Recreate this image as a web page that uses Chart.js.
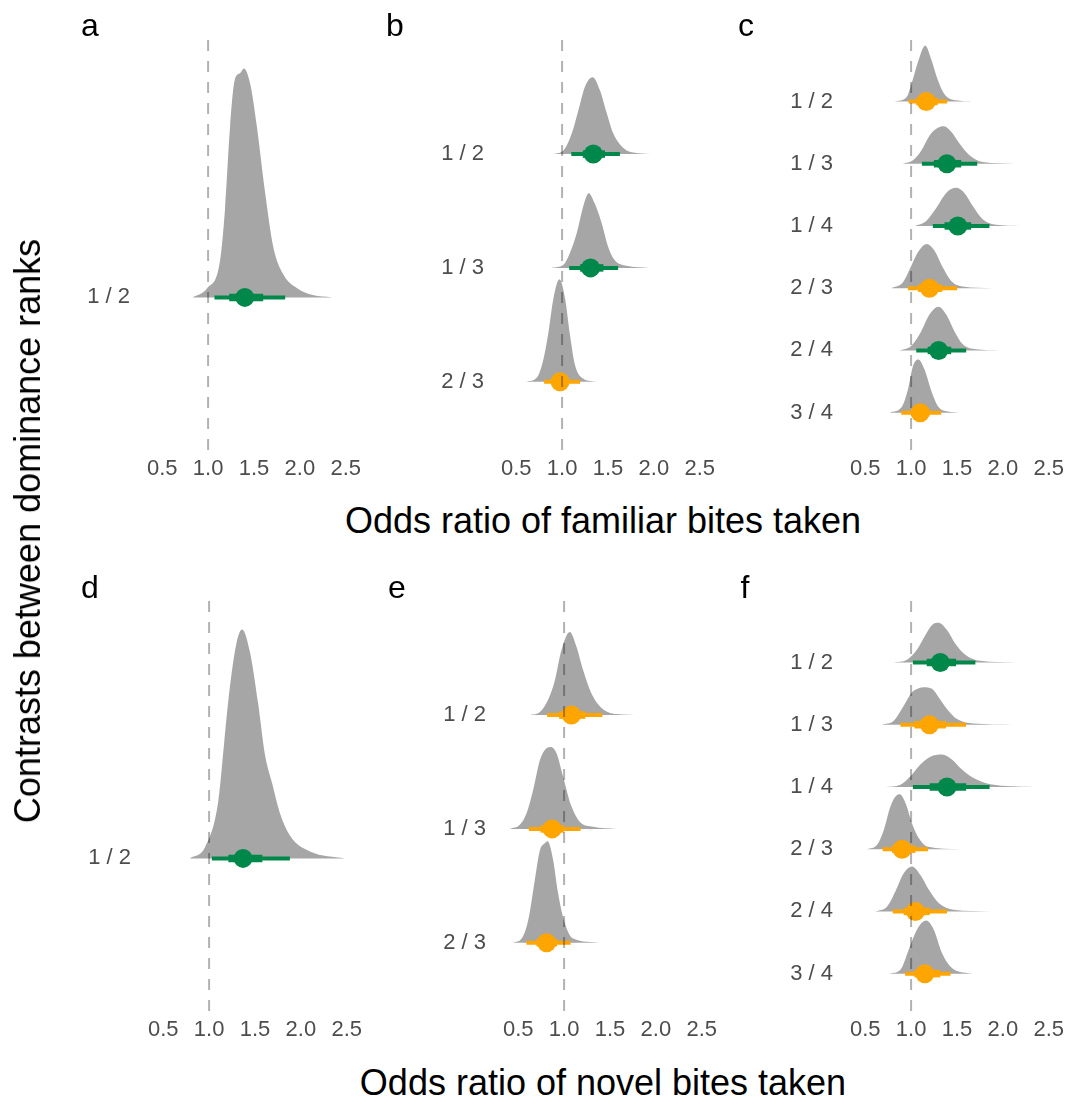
<!DOCTYPE html>
<html>
<head>
<meta charset="utf-8">
<script src="https://cdn.jsdelivr.net/npm/chart.js@4.4.0/dist/chart.umd.min.js"></script>
<style>
  body { margin: 0; background: #fff; }
  #fig { position: relative; width: 1069px; height: 1106px; overflow: hidden; font-family: "Liberation Sans", Arial, sans-serif; }
  #fig canvas { position: absolute; }
  .txt { position: absolute; color: #000; white-space: nowrap; line-height: 1; transform: translate(-50%, -50%); }
</style>
</head>
<body>
<div id="fig"></div>
<script>
// ---- data (odds ratios) ----
const xTicks = [0.5, 1.0, 1.5, 2.0, 2.5];
const xRange = [0.4, 2.6];
const refOR = 1;

// a: familiar bites, 2 ranks
const contrastsA = ['1 / 2'];
const medianA = [1.40];
const innerA = [[1.23, 1.60]];
const outerA = [[1.07, 1.84]];
const slabXA = [[0.83, 0.99, 1.13, 1.185, 1.24, 1.29, 1.35, 1.39, 1.46, 1.53, 1.62, 1.71, 1.82, 1.97, 2.14, 2.35]];
const slabDA = [[0, 0.04, 0.16, 0.39, 0.75, 0.95, 0.98, 1.0, 0.93, 0.75, 0.46, 0.22, 0.10, 0.04, 0.01, 0]];

// b: familiar bites, 3 ranks
const contrastsB = ['1 / 2', '1 / 3', '2 / 3'];
const medianB = [1.34, 1.31, 0.978];
const innerB = [[1.225, 1.467], [1.196, 1.45], [0.888, 1.068]];
const outerB = [[1.10, 1.63], [1.077, 1.61], [0.804, 1.196]];
const slabXB = [
  [0.888, 1.014, 1.105, 1.178, 1.25, 1.333, 1.413, 1.486, 1.558, 1.667, 1.812, 2.01],
  [0.888, 1.014, 1.087, 1.16, 1.23, 1.29, 1.355, 1.43, 1.5, 1.57, 1.70, 1.95],
  [0.616, 0.725, 0.797, 0.851, 0.905, 0.971, 1.033, 1.087, 1.141, 1.232, 1.377]
];
const slabDB = [
  [0, 0.036, 0.2, 0.43, 0.66, 0.75, 0.62, 0.40, 0.2, 0.06, 0.01, 0],
  [0, 0.03, 0.15, 0.34, 0.60, 0.73, 0.63, 0.44, 0.21, 0.08, 0.02, 0],
  [0, 0.04, 0.22, 0.48, 0.81, 1.0, 0.81, 0.45, 0.16, 0.03, 0]
];

// c: familiar bites, 4 ranks
const contrastsC = ['1 / 2', '1 / 3', '1 / 4', '2 / 3', '2 / 4', '3 / 4'];
const medianC = [1.165, 1.39, 1.509, 1.2, 1.30, 1.10];
const innerC = [[1.056, 1.29], [1.248, 1.546], [1.364, 1.654], [1.074, 1.34], [1.18, 1.437], [1.0, 1.2]];
const outerC = [[0.973, 1.393], [1.118, 1.72], [1.237, 1.853], [0.965, 1.502], [1.056, 1.6], [0.893, 1.328]];
const slabXC = [
  [0.82, 0.948, 1.02, 1.074, 1.154, 1.22, 1.29, 1.364, 1.49, 1.67],
  [0.91, 1.02, 1.11, 1.2, 1.29, 1.357, 1.437, 1.527, 1.636, 1.78, 2.14],
  [1.04, 1.165, 1.274, 1.383, 1.49, 1.58, 1.67, 1.78, 1.926, 2.18],
  [0.785, 0.91, 1.0, 1.074, 1.17, 1.255, 1.346, 1.437, 1.563, 1.89],
  [0.875, 1.0, 1.11, 1.2, 1.30, 1.383, 1.473, 1.563, 1.709, 1.96],
  [0.766, 0.893, 0.965, 1.02, 1.078, 1.147, 1.22, 1.29, 1.40, 1.527]
];
const slabDC = [
  [0, 0.07, 0.40, 0.70, 1.0, 0.75, 0.39, 0.13, 0.02, 0],
  [0, 0.06, 0.23, 0.5, 0.64, 0.67, 0.57, 0.36, 0.15, 0.03, 0],
  [0, 0.09, 0.32, 0.59, 0.68, 0.59, 0.36, 0.12, 0.02, 0],
  [0, 0.10, 0.39, 0.64, 0.79, 0.67, 0.37, 0.13, 0.03, 0],
  [0, 0.08, 0.34, 0.64, 0.78, 0.64, 0.34, 0.11, 0.02, 0],
  [0, 0.09, 0.41, 0.83, 0.95, 0.77, 0.39, 0.12, 0.02, 0]
];

// d: novel bites, 2 ranks
const contrastsD = ['1 / 2'];
const medianD = [1.37];
const innerD = [[1.21, 1.58]];
const outerD = [[1.03, 1.88]];
const slabXD = [[0.79, 0.957, 1.10, 1.163, 1.207, 1.293, 1.359, 1.446, 1.533, 1.61, 1.685, 1.77, 1.88, 2.1, 2.48]];
const slabDD = [[0, 0.05, 0.25, 0.5, 0.68, 0.93, 1.0, 0.9, 0.68, 0.45, 0.33, 0.2, 0.1, 0.03, 0]];

// e: novel bites, 3 ranks
const contrastsE = ['1 / 2', '1 / 3', '2 / 3'];
const medianE = [1.08, 0.87, 0.81];
const innerE = [[0.946, 1.232], [0.743, 0.997], [0.699, 0.923]];
const outerE = [[0.815, 1.417], [0.616, 1.18], [0.59, 1.072]];
const slabXE = [
  [0.627, 0.736, 0.826, 0.9, 0.97, 1.062, 1.134, 1.207, 1.298, 1.407, 1.57, 1.84],
  [0.41, 0.518, 0.59, 0.663, 0.736, 0.79, 0.852, 0.917, 0.989, 1.08, 1.17, 1.315, 1.57],
  [0.446, 0.537, 0.609, 0.681, 0.736, 0.79, 0.82, 0.88, 0.935, 1.008, 1.098, 1.388]
];
const slabDE = [
  [0, 0.03, 0.15, 0.34, 0.63, 0.81, 0.67, 0.44, 0.21, 0.07, 0.01, 0],
  [0, 0.04, 0.15, 0.38, 0.67, 0.77, 0.80, 0.74, 0.51, 0.22, 0.07, 0.02, 0],
  [0, 0.04, 0.22, 0.61, 0.90, 0.97, 0.99, 0.81, 0.48, 0.19, 0.04, 0]
];

// f: novel bites, 4 ranks
const contrastsF = ['1 / 2', '1 / 3', '1 / 4', '2 / 3', '2 / 4', '3 / 4'];
const medianF = [1.318, 1.20, 1.391, 0.902, 1.047, 1.15];
const innerF = [[1.17, 1.49], [1.036, 1.38], [1.202, 1.60], [0.793, 1.047], [0.92, 1.203], [1.036, 1.318]];
const outerF = [[1.02, 1.70], [0.884, 1.598], [1.02, 1.855], [0.69, 1.185], [0.80, 1.391], [0.935, 1.43]];
const slabXF = [
  [0.811, 0.957, 1.065, 1.156, 1.228, 1.30, 1.391, 1.48, 1.59, 1.753, 2.15],
  [0.684, 0.811, 0.92, 1.01, 1.083, 1.137, 1.228, 1.30, 1.391, 1.50, 1.68, 2.115],
  [0.72, 0.884, 0.993, 1.101, 1.21, 1.336, 1.445, 1.554, 1.68, 1.862, 2.333],
  [0.522, 0.63, 0.702, 0.775, 0.83, 0.877, 0.94, 1.01, 1.083, 1.174, 1.536],
  [0.612, 0.739, 0.83, 0.92, 1.01, 1.101, 1.192, 1.30, 1.463, 1.862],
  [0.757, 0.884, 0.975, 1.065, 1.164, 1.246, 1.336, 1.445, 1.609, 1.68]
];
const slabDF = [
  [0, 0.05, 0.23, 0.49, 0.67, 0.71, 0.58, 0.34, 0.14, 0.03, 0],
  [0, 0.07, 0.34, 0.58, 0.65, 0.67, 0.64, 0.49, 0.28, 0.10, 0.02, 0],
  [0, 0.04, 0.19, 0.40, 0.54, 0.58, 0.49, 0.31, 0.16, 0.05, 0],
  [0, 0.08, 0.34, 0.76, 0.94, 0.98, 0.82, 0.46, 0.20, 0.05, 0],
  [0, 0.09, 0.36, 0.68, 0.80, 0.65, 0.39, 0.15, 0.03, 0],
  [0, 0.07, 0.43, 0.79, 0.95, 0.79, 0.37, 0.10, 0.01, 0]
];

// ---- layout / style ----
const FONT = '"Liberation Sans", Arial, sans-serif';
const GREEN = '#00884a';
const ORANGE = '#ffa500';
const SLAB = '#a6a6a6';
const PX = 92;         // px per odds-ratio unit
const YW = 110;        // y axis width
const XH = 40;         // x axis height
const PAD_R = 24;
const PANEL_H = 412;
const SLAB_SCALE = 0.9;

const panels = [
  { key: 'a', one: 208.5, top: 38, labels: contrastsA, med: medianA, inner: innerA, outer: outerA, sx: slabXA, sd: slabDA },
  { key: 'b', one: 562, top: 38, labels: contrastsB, med: medianB, inner: innerB, outer: outerB, sx: slabXB, sd: slabDB },
  { key: 'c', one: 911.5, top: 38, labels: contrastsC, med: medianC, inner: innerC, outer: outerC, sx: slabXC, sd: slabDC },
  { key: 'd', one: 209, top: 599, labels: contrastsD, med: medianD, inner: innerD, outer: outerD, sx: slabXD, sd: slabDD },
  { key: 'e', one: 564.3, top: 599, labels: contrastsE, med: medianE, inner: innerE, outer: outerE, sx: slabXE, sd: slabDE },
  { key: 'f', one: 910.7, top: 599, labels: contrastsF, med: medianF, inner: innerF, outer: outerF, sx: slabXF, sd: slabDF }
];

const fig = document.getElementById('fig');

function addText(str, x, y, size, rotate) {
  const el = document.createElement('div');
  el.className = 'txt';
  el.textContent = str;
  el.style.left = x + 'px';
  el.style.top = y + 'px';
  el.style.fontSize = size + 'px';
  if (rotate) el.style.transform = 'translate(-50%, -50%) rotate(-90deg)';
  fig.appendChild(el);
}

function drawPanel(p) {
  const n = p.labels.length;
  const yMin = 0.4;
  const yMax = n + 1.02;
  const chartLeft = Math.round(p.one - (refOR - xRange[0]) * PX);
  const chartW = Math.round((xRange[1] - xRange[0]) * PX);

  const canvas = document.createElement('canvas');
  canvas.width = YW + chartW + PAD_R;
  canvas.height = PANEL_H + XH;
  canvas.style.left = (chartLeft - YW) + 'px';
  canvas.style.top = p.top + 'px';
  fig.appendChild(canvas);

  const colorOf = (i) => (p.outer[i][0] > refOR || p.outer[i][1] < refOR) ? GREEN : ORANGE;
  const datasets = [];

  // reference line at OR = 1 (drawn on top, translucent)
  datasets.push({
    data: [{ x: refOR, y: yMin }, { x: refOR, y: yMax }],
    borderColor: 'rgba(0,0,0,0.3)', borderWidth: 2, borderDash: [11, 10],
    pointRadius: 0, fill: false, order: 1
  });

  // medians
  datasets.push({
    type: 'scatter',
    data: p.med.map((m, i) => ({ x: m, y: n - i })),
    pointRadius: 9.5, pointBorderWidth: 0,
    pointBackgroundColor: p.med.map((m, i) => colorOf(i)),
    order: 2
  });

  p.labels.forEach((lab, i) => {
    const y0 = n - i;
    const col = colorOf(i);
    datasets.push({
      data: [{ x: p.inner[i][0], y: y0 }, { x: p.inner[i][1], y: y0 }],
      borderColor: col, borderWidth: 7.5, pointRadius: 0, fill: false, order: 3
    });
    datasets.push({
      data: [{ x: p.outer[i][0], y: y0 }, { x: p.outer[i][1], y: y0 }],
      borderColor: col, borderWidth: 4, pointRadius: 0, fill: false, order: 4
    });
    datasets.push({
      data: p.sx[i].map((x, k) => ({ x: x, y: y0 + SLAB_SCALE * p.sd[i][k] })),
      backgroundColor: SLAB, borderWidth: 0, borderColor: SLAB, pointRadius: 0,
      cubicInterpolationMode: 'monotone',
      fill: { value: y0 }, order: 5
    });
  });

  new Chart(canvas, {
    type: 'line',
    data: { datasets: datasets },
    options: {
      responsive: false,
      animation: false,
      layout: { autoPadding: false, padding: { left: 0, right: PAD_R, top: 0, bottom: 0 } },
      plugins: { legend: { display: false }, tooltip: { enabled: false } },
      scales: {
        x: {
          type: 'linear', min: xRange[0], max: xRange[1],
          afterBuildTicks: (s) => { s.ticks = xTicks.map(v => ({ value: v })); },
          afterFit: (s) => { s.height = XH; s.paddingLeft = 0; s.paddingRight = 0; },
          grid: { display: false, drawTicks: false },
          border: { display: false },
          ticks: {
            autoSkip: false, maxRotation: 0, padding: 6,
            color: '#4d4d4d', font: { family: FONT, size: 22 },
            callback: (v) => Number(v).toFixed(1)
          }
        },
        y: {
          type: 'linear', min: yMin, max: yMax,
          afterBuildTicks: (s) => { s.ticks = p.labels.map((l, i) => ({ value: n - i })); },
          afterFit: (s) => { s.width = YW; s.paddingTop = 0; s.paddingBottom = 0; },
          grid: { display: false, drawTicks: false },
          border: { display: false },
          ticks: {
            autoSkip: false, padding: 23,
            color: '#4d4d4d', font: { family: FONT, size: 22 },
            callback: (v) => p.labels[n - v]
          }
        }
      }
    }
  });
}

panels.forEach(drawPanel);

// titles and panel tags
addText('Contrasts between dominance ranks', 28, 531, 36, true);
addText('Odds ratio of familiar bites taken', 603, 521, 36);
addText('Odds ratio of novel bites taken', 603, 1083, 36);
const tagPos = { a: [90, 25], b: [395, 25], c: [746, 25], d: [90, 587], e: [397, 587], f: [745, 587] };
Object.keys(tagPos).forEach(k => addText(k, tagPos[k][0], tagPos[k][1], 32));
</script>
</body>
</html>
